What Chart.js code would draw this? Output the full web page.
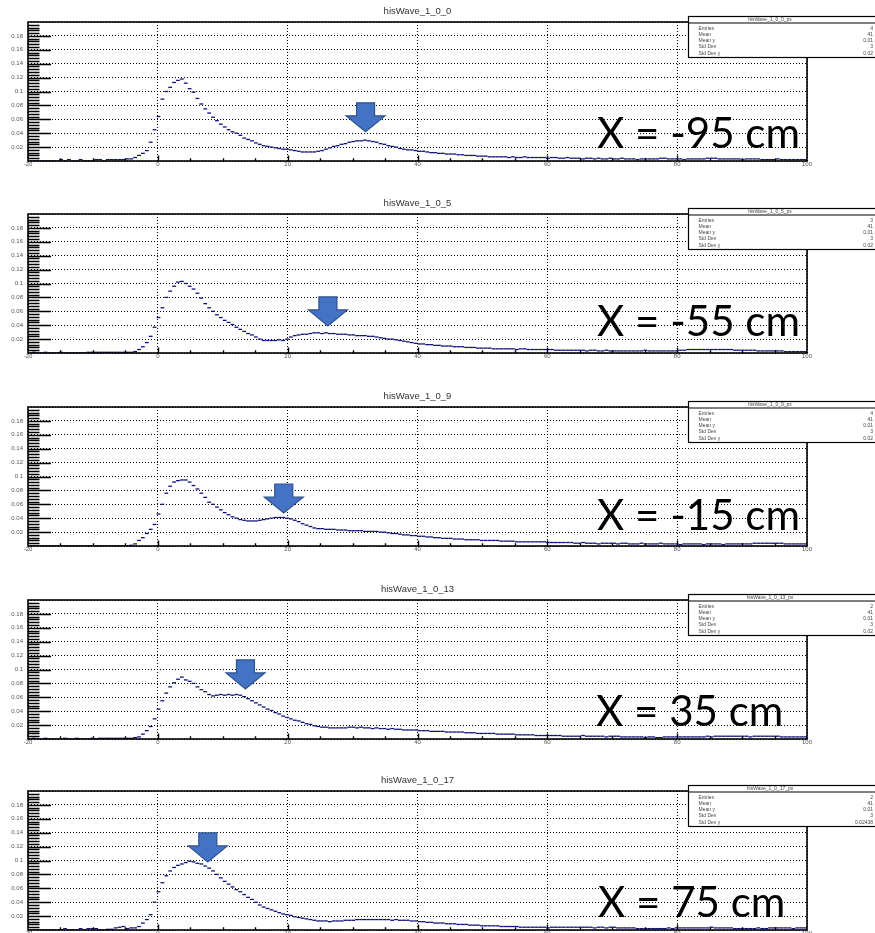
<!DOCTYPE html>
<html>
<head>
<meta charset="utf-8">
<script src="https://cdn.jsdelivr.net/npm/chart.js@4.4.0/dist/chart.umd.min.js"></script>
<style>
  html, body { margin: 0; background: #fff; overflow: hidden; }
  #wrap { position: relative; width: 875px; height: 933px; }
  #wrap canvas { position: absolute; left: 0; }
</style>
</head>
<body>
<div id="wrap"></div>
<script>
// ------------------------------------------------------------
// Waveform profiles, 200 bins of 0.6 from -20 to 100
// ------------------------------------------------------------
const binLow = -20;
const binWidth = 0.6;

const histNames = ['hisWave_1_0_0', 'hisWave_1_0_5', 'hisWave_1_0_9', 'hisWave_1_0_13', 'hisWave_1_0_17'];
const positionLabels = ['X = -95 cm', 'X = -55 cm', 'X = -15 cm', 'X = 35 cm', 'X = 75 cm'];

const wave_1_0_0 = [
  0,0,0,0,0,0,0,0,0.002,0,
  0.002,0,0,0.002,0,0,0,0.002,0.002,0,
  0.002,0.002,0.002,0.002,0.002,0.003,0.003,0.005,0.008,0.011,
  0.015,0.027,0.045,0.064,0.089,0.100,0.106,0.113,0.116,0.118,
  0.112,0.104,0.099,0.090,0.082,0.075,0.069,0.063,0.058,0.053,
  0.049,0.045,0.042,0.040,0.037,0.033,0.031,0.029,0.026,0.024,
  0.022,0.021,0.020,0.019,0.018,0.017,0.017,0.016,0.015,0.014,
  0.013,0.013,0.013,0.013,0.014,0.015,0.017,0.019,0.021,0.022,
  0.024,0.025,0.027,0.028,0.029,0.029,0.030,0.029,0.028,0.027,
  0.025,0.024,0.022,0.021,0.020,0.018,0.017,0.016,0.016,0.015,
  0.014,0.014,0.013,0.012,0.012,0.011,0.011,0.010,0.010,0.010,
  0.009,0.009,0.008,0.008,0.008,0.007,0.007,0.007,0.006,0.006,
  0.006,0.006,0.006,0.005,0.006,0.005,0.005,0.006,0.005,0.005,
  0.005,0.005,0.005,0.004,0.005,0.005,0.004,0.004,0.005,0.004,
  0.004,0.004,0.003,0.004,0.004,0.003,0.004,0.003,0.003,0.004,
  0.003,0.003,0.004,0.003,0.003,0.003,0.002,0.003,0.003,0.003,
  0.003,0.003,0.004,0.004,0.003,0.003,0.003,0.003,0.002,0.003,
  0.003,0.003,0.003,0.003,0.004,0.004,0.004,0.003,0.003,0.003,
  0.003,0.003,0.003,0.002,0.003,0.003,0.003,0.003,0.002,0.002,
  0.002,0.002,0.003,0.002,0.002,0.002,0.002,0.002,0.002,0.002
];

const wave_1_0_5 = [
  0,0.001,0,0,0.001,0,0,0,0.001,0,
  0,0,0,0,0,0.001,0.001,0.001,0.001,0.001,
  0.001,0.001,0.001,0.001,0.001,0.001,0.001,0.002,0.005,0.009,
  0.015,0.024,0.037,0.051,0.065,0.080,0.089,0.096,0.102,0.103,
  0.100,0.096,0.092,0.086,0.079,0.071,0.065,0.060,0.055,0.051,
  0.047,0.044,0.041,0.037,0.034,0.031,0.028,0.026,0.023,0.020,
  0.018,0.018,0.018,0.018,0.019,0.018,0.020,0.023,0.025,0.026,
  0.027,0.027,0.028,0.029,0.029,0.028,0.029,0.028,0.028,0.027,
  0.027,0.027,0.026,0.026,0.025,0.025,0.025,0.024,0.024,0.023,
  0.022,0.021,0.020,0.020,0.019,0.018,0.017,0.016,0.015,0.014,
  0.013,0.013,0.012,0.012,0.011,0.011,0.010,0.010,0.010,0.009,
  0.009,0.009,0.008,0.008,0.008,0.007,0.007,0.007,0.007,0.006,
  0.006,0.006,0.006,0.006,0.006,0.005,0.006,0.006,0.005,0.005,
  0.005,0.005,0.005,0.005,0.005,0.004,0.004,0.004,0.004,0.004,
  0.004,0.004,0.004,0.003,0.004,0.004,0.003,0.003,0.004,0.003,
  0.003,0.003,0.003,0.003,0.003,0.003,0.003,0.003,0.004,0.003,
  0.003,0.003,0.003,0.003,0.003,0.003,0.003,0.004,0.004,0.005,
  0.005,0.005,0.005,0.005,0.005,0.005,0.005,0.005,0.005,0.005,
  0.005,0.004,0.004,0.004,0.004,0.004,0.004,0.003,0.003,0.003,
  0.003,0.003,0.003,0.003,0.002,0.002,0.002,0.002,0.002,0.002
];

const wave_1_0_9 = [
  0,0,0,0,0,0,0,0,0,0,
  0,0,0,0,0,0,0,0,0,0,
  0,0,0,0,0,0,0.001,0.003,0.008,0.012,
  0.018,0.024,0.031,0.046,0.060,0.076,0.086,0.092,0.094,0.095,
  0.095,0.092,0.087,0.082,0.076,0.070,0.063,0.060,0.056,0.052,
  0.048,0.045,0.042,0.040,0.038,0.037,0.036,0.036,0.036,0.037,
  0.038,0.039,0.040,0.041,0.041,0.041,0.040,0.039,0.037,0.035,
  0.032,0.030,0.028,0.026,0.025,0.025,0.024,0.024,0.024,0.023,
  0.023,0.023,0.022,0.022,0.022,0.022,0.021,0.021,0.021,0.021,
  0.020,0.020,0.019,0.018,0.018,0.017,0.016,0.016,0.015,0.015,
  0.014,0.014,0.013,0.013,0.012,0.012,0.011,0.011,0.011,0.010,
  0.010,0.010,0.009,0.009,0.009,0.009,0.008,0.008,0.008,0.008,
  0.008,0.007,0.007,0.007,0.007,0.006,0.006,0.006,0.006,0.006,
  0.006,0.006,0.006,0.005,0.005,0.005,0.005,0.005,0.005,0.005,
  0.004,0.004,0.005,0.004,0.004,0.004,0.003,0.004,0.004,0.004,
  0.004,0.003,0.004,0.004,0.003,0.003,0.003,0.004,0.003,0.003,
  0.003,0.003,0.004,0.003,0.003,0.003,0.003,0.002,0.003,0.003,
  0.003,0.003,0.003,0.002,0.003,0.003,0.003,0.003,0.002,0.003,
  0.003,0.003,0.003,0.003,0.003,0.003,0.004,0.004,0.004,0.004,
  0.004,0.004,0.004,0.004,0.003,0.003,0.003,0.003,0.003,0.003
];

const wave_1_0_13 = [
  0,0.001,0,0,0.001,0,0,0,0,0.001,
  0,0,0.001,0,0,0,0.001,0,0.001,0.001,
  0.001,0.001,0.001,0.001,0.001,0.001,0.001,0.002,0.003,0.007,
  0.012,0.018,0.029,0.043,0.055,0.066,0.075,0.081,0.086,0.089,
  0.085,0.083,0.080,0.075,0.071,0.068,0.064,0.062,0.063,0.064,
  0.063,0.064,0.063,0.064,0.063,0.061,0.058,0.055,0.052,0.049,
  0.046,0.043,0.041,0.038,0.036,0.033,0.031,0.029,0.027,0.026,
  0.024,0.022,0.021,0.019,0.018,0.017,0.017,0.016,0.016,0.016,
  0.016,0.016,0.017,0.017,0.016,0.017,0.016,0.016,0.015,0.016,
  0.015,0.015,0.014,0.015,0.014,0.014,0.013,0.013,0.013,0.013,
  0.012,0.012,0.012,0.011,0.011,0.011,0.011,0.010,0.010,0.010,
  0.010,0.010,0.009,0.009,0.009,0.008,0.008,0.008,0.008,0.008,
  0.007,0.007,0.007,0.007,0.007,0.006,0.006,0.006,0.006,0.006,
  0.005,0.005,0.005,0.005,0.005,0.005,0.005,0.004,0.004,0.004,
  0.004,0.004,0.005,0.004,0.004,0.004,0.004,0.004,0.003,0.004,
  0.004,0.004,0.003,0.003,0.003,0.003,0.003,0.003,0.002,0.003,
  0.003,0.002,0.002,0.003,0.003,0.003,0.003,0.003,0.003,0.003,
  0.003,0.003,0.003,0.003,0.004,0.003,0.004,0.004,0.004,0.004,
  0.004,0.004,0.004,0.004,0.004,0.003,0.004,0.004,0.004,0.004,
  0.004,0.004,0.004,0.003,0.003,0.003,0.003,0.003,0.003,0.003
];

const wave_1_0_17 = [
  0,0,0,0,0,0,0,0,0,0.002,
  0,0,0,0.002,0,0.002,0.002,0.002,0,0,
  0.001,0.001,0.003,0.004,0.005,0.002,0.003,0.003,0.005,0.010,
  0.015,0.022,0.040,0.055,0.068,0.078,0.085,0.090,0.093,0.095,
  0.097,0.099,0.098,0.096,0.095,0.092,0.089,0.085,0.080,0.075,
  0.070,0.066,0.062,0.058,0.055,0.051,0.047,0.044,0.040,0.036,
  0.033,0.031,0.029,0.027,0.025,0.023,0.022,0.021,0.019,0.018,
  0.017,0.016,0.015,0.014,0.013,0.013,0.013,0.012,0.013,0.013,
  0.013,0.014,0.014,0.014,0.015,0.015,0.015,0.015,0.015,0.015,
  0.015,0.015,0.015,0.014,0.015,0.014,0.014,0.014,0.013,0.013,
  0.012,0.012,0.011,0.011,0.010,0.010,0.010,0.009,0.009,0.009,
  0.008,0.008,0.008,0.007,0.007,0.007,0.006,0.006,0.006,0.006,
  0.006,0.005,0.005,0.005,0.005,0.005,0.004,0.004,0.004,0.004,
  0.004,0.004,0.004,0.003,0.004,0.004,0.004,0.004,0.004,0.004,
  0.004,0.004,0.004,0.004,0.004,0.003,0.004,0.004,0.003,0.004,
  0.004,0.003,0.003,0.003,0.003,0.003,0.002,0.002,0.002,0.002,
  0.002,0.002,0.002,0.002,0.003,0.002,0.003,0.003,0.003,0.003,
  0.003,0.003,0.003,0.003,0.003,0.004,0.003,0.003,0.003,0.003,
  0.003,0.002,0.002,0.002,0.002,0.002,0.002,0.003,0.002,0.002,
  0.003,0.003,0.003,0.003,0.003,0.003,0.002,0.003,0.003,0.003
];

const waves = [wave_1_0_0, wave_1_0_5, wave_1_0_9, wave_1_0_13, wave_1_0_17];

// second-pulse markers (time, amplitude at arrow tip)
const pulseX = [32.0, 26.2, 19.4, 13.5, 7.7];
const pulseY = [0.042, 0.039, 0.0475, 0.072, 0.098];

// stats box contents (value column runs off the pad edge)
const statNames = ['Entries', 'Mean', 'Mean y', 'Std Dev', 'Std Dev y'];
const statValues = [
  ['4', '41', '0.01', '3', '0.02'],
  ['3', '41', '0.01', '3', '0.02'],
  ['4', '41', '0.01', '3', '0.02'],
  ['2', '41', '0.01', '3', '0.02'],
  ['2', '41', '0.01', '3', '0.02438']
];

// ------------------------------------------------------------
// Pad layout
// ------------------------------------------------------------
const FRAME_TOPS = [22, 214, 407, 600, 791];
const LABEL_DY = [126, 122, 123, 126, 126];
const LABEL_X = [597, 597, 597, 596, 598];
const CANVAS_H = 192;
const NAVY = '#10107a';

let labelScale = null;

const rootPad = {
  id: 'rootPad',
  afterDraw(chart, args, opts) {
    const { ctx, chartArea: a, scales: { x, y } } = chart;
    const k = opts.panel;
    ctx.save();

    // y ticks inside the frame
    ctx.strokeStyle = '#000';
    ctx.lineWidth = 1.4;
    ctx.beginPath();
    for (let n = 1; n < 50; n++) {
      const py = Math.round(y.getPixelForValue(n * 0.004)) + 0.5;
      const len = n % 5 === 0 ? 23 : 11.5;
      ctx.moveTo(a.left, py);
      ctx.lineTo(a.left + len, py);
    }
    // x ticks
    for (let v = -15; v < 100; v += 5) {
      const px = Math.round(x.getPixelForValue(v)) + 0.5;
      const len = v % 20 === 0 ? 5.5 : 2.8;
      ctx.moveTo(px, a.bottom);
      ctx.lineTo(px, a.bottom - len);
    }
    ctx.stroke();

    // frame
    ctx.lineWidth = 1.6;
    ctx.strokeRect(a.left, a.top, a.right - a.left, a.bottom - a.top);

    // arrow on the second pulse
    const tx = x.getPixelForValue(pulseX[k]);
    const ty = y.getPixelForValue(pulseY[k]);
    ctx.beginPath();
    ctx.moveTo(tx - 9, ty - 29);
    ctx.lineTo(tx + 9, ty - 29);
    ctx.lineTo(tx + 9, ty - 16);
    ctx.lineTo(tx + 19.5, ty - 16);
    ctx.lineTo(tx, ty);
    ctx.lineTo(tx - 19.5, ty - 16);
    ctx.lineTo(tx - 9, ty - 16);
    ctx.closePath();
    ctx.fillStyle = '#4472c4';
    ctx.fill();
    ctx.strokeStyle = '#2f528f';
    ctx.lineWidth = 1.2;
    ctx.stroke();

    // position label
    ctx.font = '42px Lato';
    if (labelScale === null) labelScale = 203 / ctx.measureText(positionLabels[0]).width;
    ctx.fillStyle = '#000';
    ctx.textBaseline = 'alphabetic';
    ctx.textAlign = 'left';
    ctx.translate(LABEL_X[k], a.top + LABEL_DY[k]);
    ctx.scale(labelScale, 1);
    ctx.fillText(positionLabels[k], 0, 0);
    ctx.setTransform(1, 0, 0, 1, 0, 0);

    // stats box
    const bx = 688.5, by = a.top - 5.5, bh = 41;
    ctx.fillStyle = '#fff';
    ctx.fillRect(bx, by, 200, bh);
    ctx.strokeStyle = '#000';
    ctx.lineWidth = 1.2;
    ctx.strokeRect(bx, by, 200, bh);
    ctx.beginPath();
    ctx.moveTo(bx, by + 6.5);
    ctx.lineTo(bx + 200, by + 6.5);
    ctx.stroke();
    ctx.fillStyle = '#444';
    ctx.font = '5px "Liberation Sans"';
    ctx.textBaseline = 'middle';
    ctx.textAlign = 'center';
    ctx.fillText(histNames[k] + '_px', 770, by + 3.5);
    statNames.forEach((s, j) => {
      const ly = by + 12 + j * 6.2;
      ctx.textAlign = 'left';
      ctx.fillText(s, bx + 10, ly);
      ctx.textAlign = 'right';
      ctx.fillText(statValues[k][j], 873, ly);
    });
    ctx.restore();
  }
};

const wrap = document.getElementById('wrap');

waves.forEach((wave, k) => {
  const cv = document.createElement('canvas');
  cv.width = 875;
  cv.height = CANVAS_H;
  cv.style.top = (FRAME_TOPS[k] - 22) + 'px';
  wrap.appendChild(cv);

  const points = wave.map((v, i) => ({ x: binLow + (i + 0.5) * binWidth, y: v }));

  new Chart(cv, {
    type: 'scatter',
    data: {
      datasets: [{
        data: points,
        pointStyle: 'line',
        pointRadius: 1.9,
        pointHoverRadius: 1.9,
        borderColor: NAVY,
        backgroundColor: NAVY,
        borderWidth: 1.3
      }]
    },
    options: {
      responsive: false,
      animation: false,
      devicePixelRatio: 1,
      events: [],
      layout: { padding: { left: 0, right: 68, top: 0, bottom: 0 } },
      plugins: {
        legend: { display: false },
        tooltip: { enabled: false },
        title: {
          display: true,
          text: histNames[k],
          fullSize: false,
          color: '#333',
          font: { family: '"Liberation Sans"', size: 9.5, weight: 'normal' },
          padding: { top: 5.5, bottom: 5.1 }
        },
        rootPad: { panel: k }
      },
      scales: {
        x: {
          type: 'linear',
          min: -20,
          max: 100,
          afterFit: s => { s.height = CANVAS_H - 161; },
          ticks: {
            stepSize: 20, autoSkip: false, maxRotation: 0, padding: 0,
            color: '#555', font: { family: '"Liberation Sans"', size: 6 }
          },
          grid: { color: '#000', lineWidth: 1, drawTicks: false },
          border: { display: false, dash: [1, 2] }
        },
        y: {
          min: 0,
          max: 0.2,
          afterFit: s => { s.width = 28; },
          ticks: {
            stepSize: 0.02, padding: 5,
            color: '#555', font: { family: '"Liberation Sans"', size: 6 },
            callback: v => (v > 0.001 && v < 0.199) ? String(+v.toFixed(2)) : ''
          },
          grid: { color: '#000', lineWidth: 1, drawTicks: false },
          border: { display: false, dash: [1, 2] }
        }
      }
    },
    plugins: [rootPad]
  });
});
</script>
</body>
</html>
